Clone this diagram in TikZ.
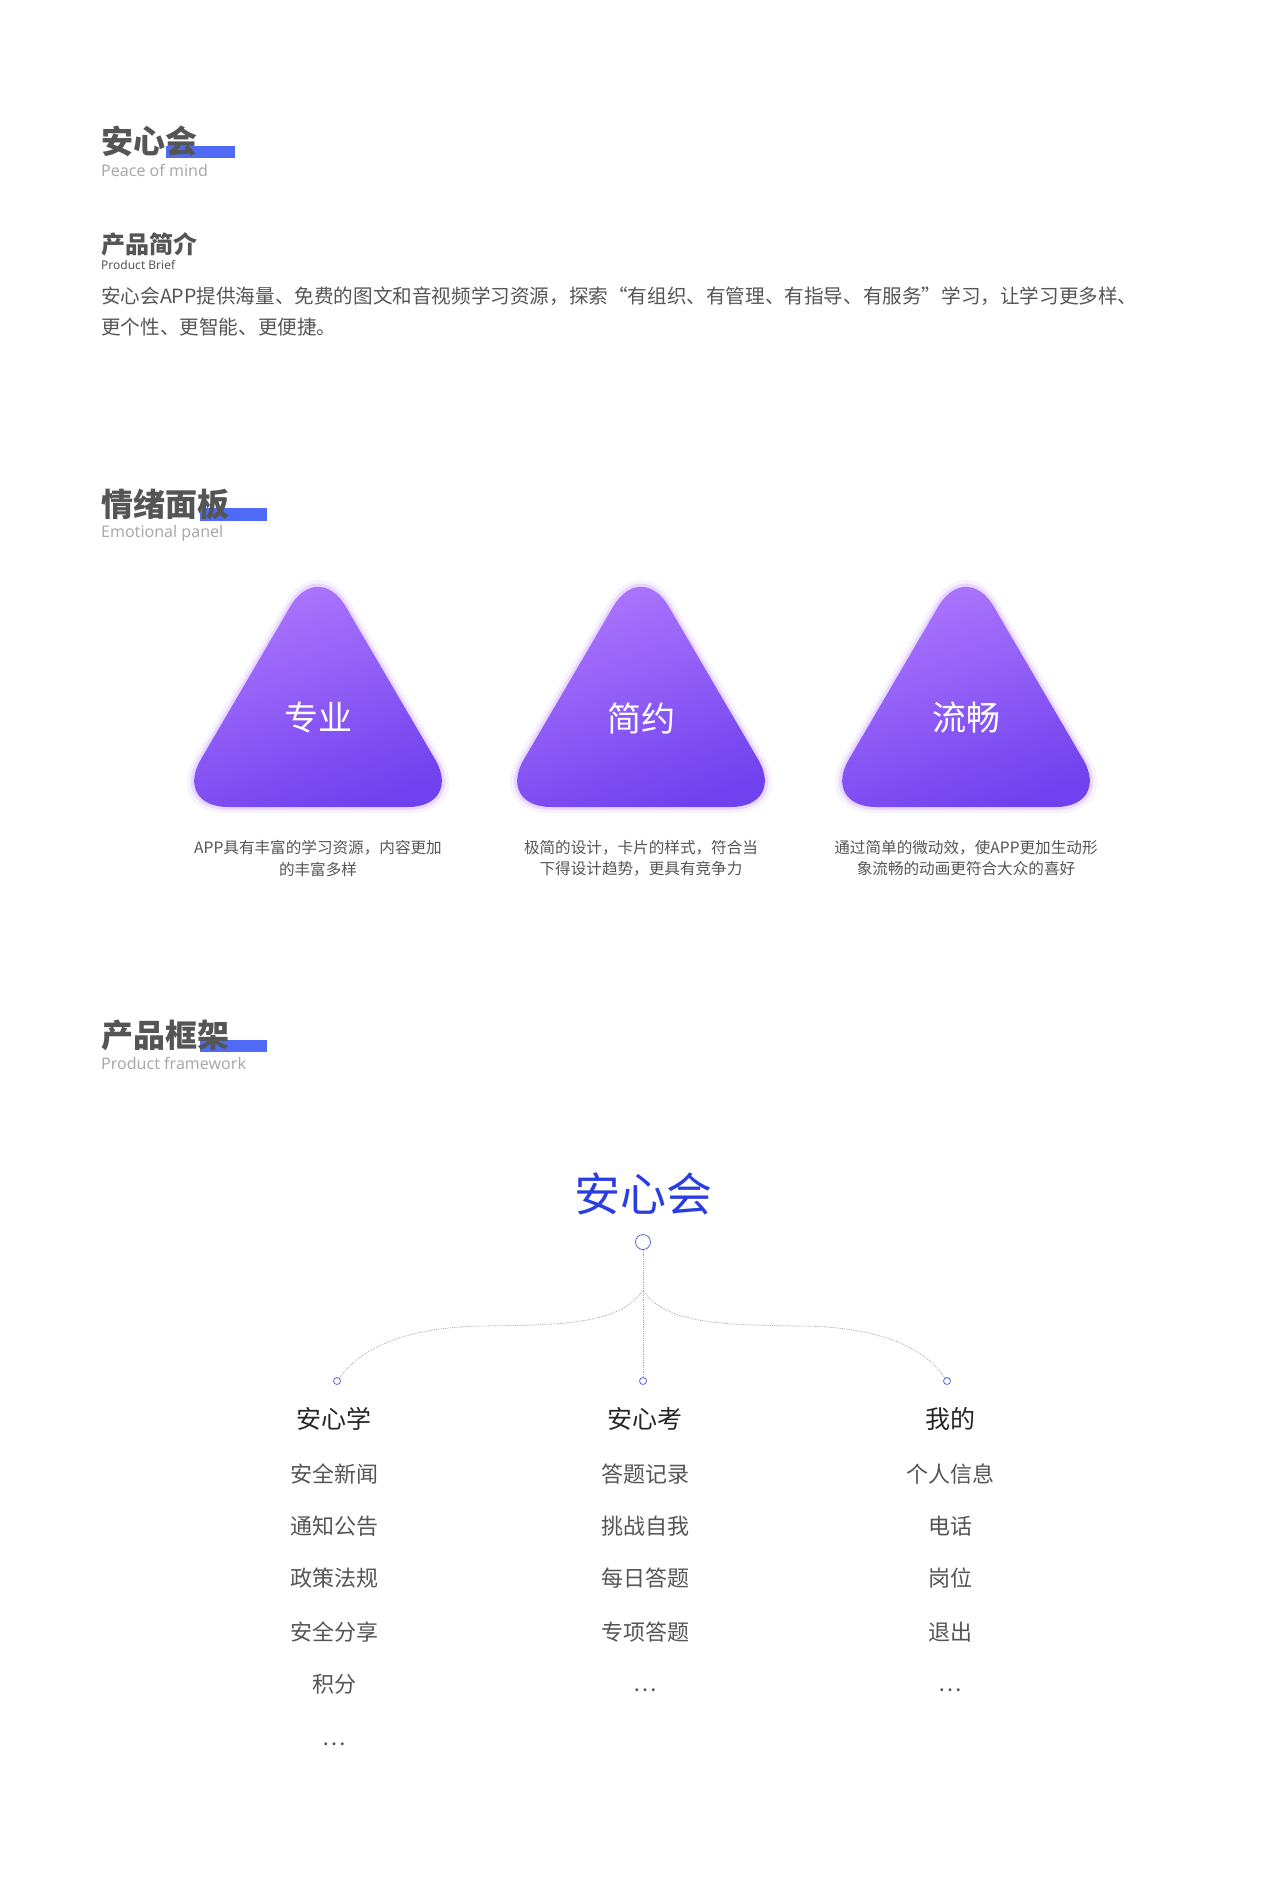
\documentclass[tikz,border=0pt]{standalone}
\usepackage{fontspec}
\setmainfont{Noto Sans CJK SC}
\newfontfamily\latn{Noto Sans}
\usetikzlibrary{shadings}
\definecolor{hd}{HTML}{555555}
\definecolor{sub}{HTML}{AAAAAA}
\definecolor{txt}{HTML}{555555}
\definecolor{bar}{HTML}{4F6BF5}
\definecolor{blu}{HTML}{2A3DE0}
\definecolor{pA}{HTML}{B47CFF}
\definecolor{pB}{HTML}{7041EE}
\definecolor{dot}{HTML}{AAAAAA}
\tikzset{
  head/.style={anchor=west,inner sep=0,font=\fontsize{32}{34}\selectfont\bfseries,text=hd},
  subt/.style={anchor=west,inner sep=0,font=\latn\fontsize{16}{18}\selectfont,text=sub},
  para/.style={anchor=west,inner sep=0,font=\fontsize{19.6}{21}\selectfont,text=txt},
  captxt/.style={inner sep=0,font=\fontsize{15.6}{17}\selectfont,text=txt},
  colh/.style={inner sep=0,font=\fontsize{25}{27}\selectfont,text=black!85},
  item/.style={inner sep=0,font=\fontsize{22}{24}\selectfont,text=txt},
  dl/.style={draw=dot,densely dotted,line width=0.8},
  ring/.style={circle,draw=blu!80,line width=0.8,fill=white,inner sep=0},
}
\begin{document}
\begin{tikzpicture}[x=1pt,y=-1pt]
\useasboundingbox[fill=white] (0,0) rectangle (1280,1898);
% headers
\fill[bar] (166,146) rectangle (235,158);
\node[head] (h1) at (101,141) {安心会};
\node[subt] (s1) at (101,170) {Peace of mind};
\node[anchor=west,inner sep=0,font=\fontsize{24}{26}\selectfont\bfseries,text=hd] (h1b) at (101,244) {产品简介};
\node[subt,font=\latn\fontsize{12}{14}\selectfont,text=hd] (s1b) at (101,265) {Product Brief};
\node[para] (p1) at (101,296) {安心会APP提供海量、免费的图文和音视频学习资源，探索“有组织、有管理、有指导、有服务”学习，让学习更多样、};
\node[para] (p2) at (101,327) {更个性、更智能、更便捷。};
\fill[bar] (200,508) rectangle (267,521);
\node[head] (h2) at (101,504) {情绪面板};
\node[subt] (s2) at (101,533) {Emotional panel};
\fill[bar] (200,1040) rectangle (267,1052);
\node[head] (h3) at (101,1035) {产品框架};
\node[subt] (s3) at (101,1063) {Product framework};
% triangles
\foreach \cx/\t/\a/\b/\n in {318/专业/APP具有丰富的学习资源，内容更加/的丰富多样/A,641/简约/极简的设计，卡片的样式，符合当/下得设计趋势，更具有竞争力/B,966/流畅/通过简单的微动效，使APP更加生动形/象流畅的动画更符合大众的喜好/C}{
  \draw[rounded corners=57,line width=8,draw=pA!10] (\cx,555) -- (\cx+149,809) -- (\cx-149,809) -- cycle;
  \draw[rounded corners=56,line width=3.5,draw=pA!30] (\cx,557) -- (\cx+147,808) -- (\cx-147,808) -- cycle;
  \shade[rounded corners=55,top color=pA,bottom color=pB,shading angle=20] (\cx,559) -- (\cx+145,807) -- (\cx-145,807) -- cycle;
  \node[inner sep=0,text=white,font=\fontsize{34}{36}\selectfont] (t\n) at (\cx,718) {\t};
  \node[captxt] (ca\n) at (\cx,848) {\a};
  \node[captxt] (cb\n) at (\cx,869) {\b};
}
% framework
\node[inner sep=0,text=blu,font=\fontsize{46}{48}\selectfont] (root) at (643,1194) {安心会};
\node[ring,minimum size=15] (rc) at (643,1242) {};
\coordinate (fork) at (643,1290);
\node[ring,minimum size=7] (lc) at (337,1381) {};
\node[ring,minimum size=7] (mc) at (643,1381) {};
\node[ring,minimum size=7] (rc2) at (947,1381) {};
\draw[dl] (rc) -- (mc);
\draw[dl] (fork) .. controls (620,1325) and (560,1325) .. (480,1326) .. controls (400,1328) and (360,1350) .. (lc);
\draw[dl] (fork) .. controls (666,1325) and (726,1325) .. (806,1326) .. controls (886,1328) and (926,1350) .. (rc2);
\node[colh] (c1) at (334,1419) {安心学};
\node[colh] (c2) at (645,1419) {安心考};
\node[colh] (c3) at (950,1419) {我的};
\foreach \y/\a/\b/\c/\n in {1474/安全新闻/答题记录/个人信息/1,1526/通知公告/挑战自我/电话/2,1578/政策法规/每日答题/岗位/3,1632/安全分享/专项答题/退出/4}{
  \node[item] (l\n) at (334,\y) {\a};
  \node[item] (m\n) at (645,\y) {\b};
  \node[item] (r\n) at (950,\y) {\c};
}
\node[item] (l5) at (334,1684) {积分};
\node[item] (m5) at (645,1690) {…};
\node[item] (r5) at (950,1690) {…};
\node[item] (l6) at (334,1744) {…};
\end{tikzpicture}
\end{document}
